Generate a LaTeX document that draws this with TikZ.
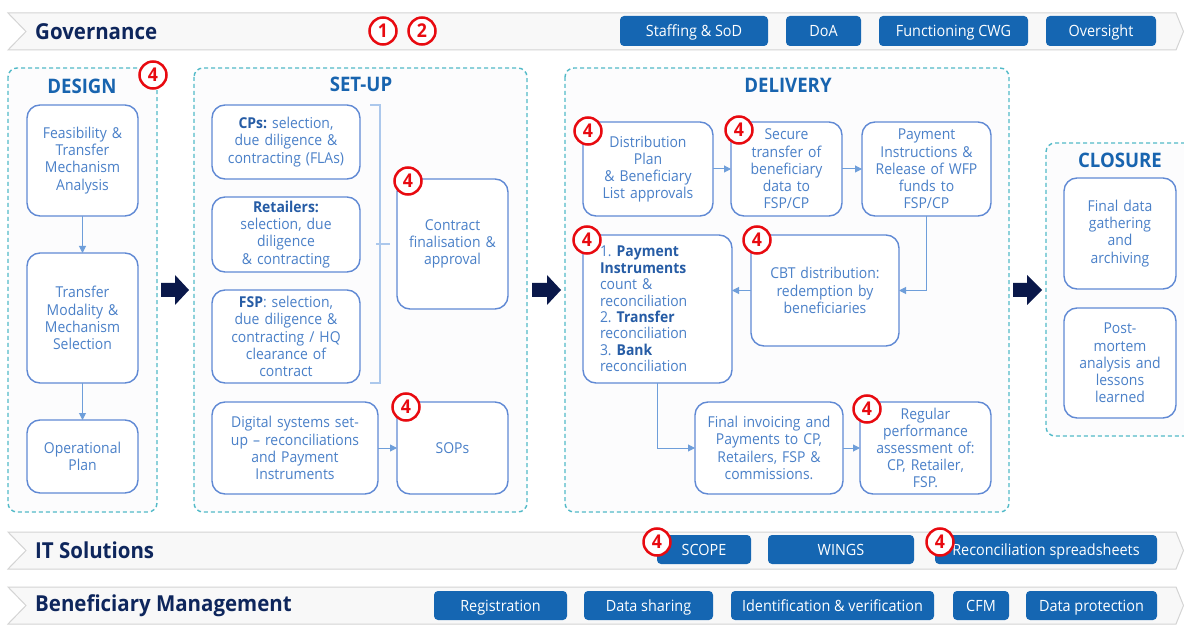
\documentclass[tikz,border=0pt]{standalone}
\usepackage{fontspec}
\setmainfont{Open Sans}[FakeStretch=0.93]
\usetikzlibrary{arrows.meta,calc}
\definecolor{boxline}{RGB}{96,137,212}
\definecolor{boxtext}{RGB}{74,128,200}
\definecolor{boldtext}{RGB}{38,92,165}
\definecolor{titleblue}{RGB}{24,100,175}
\definecolor{navy}{RGB}{14,38,92}
\definecolor{btnblue}{RGB}{21,102,178}
\definecolor{dashteal}{RGB}{82,186,200}
\definecolor{connblue}{RGB}{110,158,218}
\definecolor{bracecol}{RGB}{172,200,236}
\definecolor{bigarrow}{RGB}{10,24,74}
\definecolor{badgered}{RGB}{232,10,16}
\definecolor{barfill}{RGB}{248,248,248}
\definecolor{barline}{RGB}{212,212,212}
\definecolor{panelfill}{RGB}{252,252,253}

\frenchspacing
\newcommand\bt[1]{{\bfseries\color{boldtext}#1}}
\newcommand\mkbox[7][]{%
 \pgfmathsetmacro\myW{#5-#3}\pgfmathsetmacro\myH{#6-#4}\pgfmathsetmacro\myT{#5-#3-10}%
 \node[box, minimum width=\myW pt, minimum height=\myH pt, text width=\myT pt, #1] (#2) at ({(#3+#5)/2},{(#4+#6)/2}) {#7};}
\newcommand\mkbtn[6]{%
 \pgfmathsetmacro\myW{#5-#3}\pgfmathsetmacro\myH{#6-#4}%
 \node[btn, minimum width=\myW pt, minimum height=\myH pt] (#2) at ({(#3+#5)/2},{(#4+#6)/2}) {#1};}

\tikzset{
 box/.style={draw=boxline, line width=1.4pt, rounded corners=13pt, fill=white, align=center,
   text=boxtext, inner sep=0pt, outer sep=0pt, font=\fontsize{15}{17.2}\selectfont},
 btn/.style={fill=btnblue, rounded corners=4pt, text=white, inner sep=0pt, outer sep=0pt,
   text height=13pt, text depth=2pt, font=\fontsize{15.5}{17}\selectfont},
 bar/.style={fill=barfill, draw=barline, line width=1pt},
 bartitle/.style={anchor=west, text=navy, inner sep=0pt, font=\bfseries\fontsize{22}{25}\selectfont},
 panel/.style={draw=dashteal, line width=1.4pt, dash pattern=on 4pt off 3pt, rounded corners=9pt, fill=panelfill},
 ptitle/.style={text=titleblue, inner sep=0pt, font=\bfseries\fontsize{20}{24}\selectfont},
 badge/.style={circle, draw=badgered, line width=2.5pt, fill=white, minimum size=27pt, inner sep=0pt,
   text=badgered, font=\bfseries\fontsize{19}{19}\selectfont},
 conn/.style={draw=connblue, line width=1pt, -{Triangle[length=7pt,width=7pt]}},
 bigarr/.style={fill=bigarrow},
}

\begin{document}
\begin{tikzpicture}[x=1pt,y=-1pt]
\useasboundingbox (0,0) rectangle (1184,628);
\fill[white] (0,0) rectangle (1184,628);

% ---------- bars ----------
\draw[bar] (8,13) -- (1176,13) -- (1183.5,31.5) -- (1176,50) -- (8,50) -- (26,31.5) -- cycle;
\draw[bar] (8,532) -- (1176,532) -- (1183.5,550.5) -- (1176,569) -- (8,569) -- (26,550.5) -- cycle;
\draw[bar] (8,587) -- (1176,587) -- (1183.5,605.5) -- (1176,624) -- (8,624) -- (26,605.5) -- cycle;
\node[bartitle] (gov) at (35,31.5) {Governance};
\node[bartitle] (its) at (35,550.5) {IT Solutions};
\node[bartitle] (bm) at (35,606) {Beneficiary Management};

\mkbtn{Staffing \& SoD}{g1}{620}{16}{768}{46}
\mkbtn{DoA}{g2}{786}{16}{861}{46}
\mkbtn{Functioning CWG}{g3}{879}{16}{1028}{46}
\mkbtn{Oversight}{g4}{1046}{16}{1156}{46}

\mkbtn{SCOPE}{i1}{657}{535}{751}{564}
\mkbtn{WINGS}{i2}{768}{535}{914}{564}
\mkbtn{Reconciliation spreadsheets}{i3}{935}{535}{1157}{564}

\mkbtn{Registration}{m1}{434}{591}{567}{620}
\mkbtn{Data sharing}{m2}{584}{591}{713}{620}
\mkbtn{Identification \& verification}{m3}{731}{591}{934}{620}
\mkbtn{CFM}{m4}{953}{591}{1009}{620}
\mkbtn{Data protection}{m5}{1026}{591}{1157}{620}

% ---------- panels ----------
\draw[panel] (8,68) rectangle (157,512);
\draw[panel] (194,68) rectangle (527,512);
\draw[panel] (565,68) rectangle (1009,512);
\draw[panel] (1192,143) -- (1046,143) -- (1046,436) -- (1192,436);
\node[ptitle] (tdes) at (82,86) {DESIGN};
\node[ptitle] (tset) at (361,84) {SET-UP};
\node[ptitle] (tdel) at (788,85) {DELIVERY};
\node[ptitle] (tclo) at (1120,160) {CLOSURE};

% ---------- big arrows ----------
\fill[bigarr] (161,283) -- (175,283) -- (175,275) -- (189,290) -- (175,305) -- (175,297) -- (161,297) -- cycle;
\fill[bigarr] (532,283) -- (547,283) -- (547,275) -- (561,290) -- (547,305) -- (547,297) -- (532,297) -- cycle;
\fill[bigarr] (1013,283) -- (1027,283) -- (1027,275) -- (1042,290) -- (1027,305) -- (1027,297) -- (1013,297) -- cycle;

% ---------- design ----------
\mkbox{feas}{27}{105}{138}{216}{Feasibility \&\\ Transfer\\ Mechanism\\ Analysis}
\mkbox{tmod}{27}{253}{138}{383}{Transfer\\ Modality \&\\ Mechanism\\ Selection}
\mkbox{oper}{27}{420}{138}{493}{Operational\\ Plan}
\draw[conn] (feas.south) -- (tmod.north);
\draw[conn] (tmod.south) -- (oper.north);

% ---------- set-up ----------
\mkbox{cps}{212}{105}{360}{179}{\bt{CPs:} selection,\\ due diligence \&\\ contracting (FLAs)}
\mkbox{ret}{212}{197}{360}{272}{\bt{Retailers:}\\ selection, due\\ diligence\\ \& contracting}
\mkbox{fsp}{212}{290}{360}{383}{\bt{FSP}: selection,\\ due diligence \&\\ contracting / HQ\\ clearance of\\ contract}
\mkbox{contr}{397}{179}{508}{309}{Contract\\ finalisation \&\\ approval}
\mkbox{digi}{212}{402}{378}{494}{Digital systems set-\\ up -- reconciliations\\ and Payment\\ Instruments}
\mkbox{sops}{397}{402}{508}{494}{SOPs}
\draw[bracecol, line width=1.2pt] (370,105) -- (380,105) -- (380,383) -- (370,383);
\draw[bracecol, line width=1.2pt] (376,244) -- (390,244);
\draw[conn] (digi.east) -- (sops.west);

% ---------- delivery ----------
\mkbox{dist}{583}{122}{713}{216}{Distribution\\ Plan\\ \& Beneficiary\\ List approvals}
\mkbox{secu}{731}{122}{842}{216}{Secure\\ transfer of\\ beneficiary\\ data to\\ FSP/CP}
\mkbox{pay}{862}{122}{991}{216}{Payment\\ Instructions \&\\ Release of WFP\\ funds to\\ FSP/CP}
\mkbox[align=left, text width=115pt, font=\fontsize{15}{16.4}\selectfont]{rec}{583}{235}{732}{383}{1. \bt{Payment}\\ \bt{Instruments}\\ count \&\\ reconciliation\\ 2. \bt{Transfer}\\ reconciliation\\ 3. \bt{Bank}\\ reconciliation}
\mkbox{cbt}{751}{235}{899}{346}{CBT distribution:\\ redemption by\\ beneficiaries}
\mkbox{fin}{695}{402}{843}{494}{Final invoicing and\\ Payments to CP,\\ Retailers, FSP \&\\ commissions.}
\mkbox{reg}{860}{402}{991}{494}{Regular\\ performance\\ assessment of:\\ CP, Retailer,\\ FSP.}
\draw[conn] (dist.east) -- (secu.west);
\draw[conn] (secu.east) -- (pay.west);
\draw[conn] (pay.south) |- (cbt.east);
\draw[conn] (cbt.west) -- (rec.east |- cbt.west);
\draw[conn] (rec.south) |- (fin.west);
\draw[conn] (fin.east) -- (reg.west);

% ---------- closure ----------
\mkbox{fdata}{1064}{178}{1176}{289}{Final data\\ gathering\\ and\\ archiving}
\mkbox{post}{1064}{308}{1176}{418}{Post-\\ mortem\\ analysis and\\ lessons\\ learned}

% ---------- badges ----------
\node[badge] (b1) at (383,31) {1};
\node[badge] (b2) at (422,31) {2};
\node[badge] (b3) at (153,75) {4};
\node[badge] (b4) at (408,181) {4};
\node[badge] (b5) at (406,407) {4};
\node[badge] (b6) at (588,131) {4};
\node[badge] (b7) at (739,130) {4};
\node[badge] (b8) at (587,240) {4};
\node[badge] (b9) at (757,240) {4};
\node[badge] (b10) at (867,409) {4};
\node[badge] (b11) at (657,542) {4};
\node[badge] (b12) at (940,542) {4};
\end{tikzpicture}
\end{document}
